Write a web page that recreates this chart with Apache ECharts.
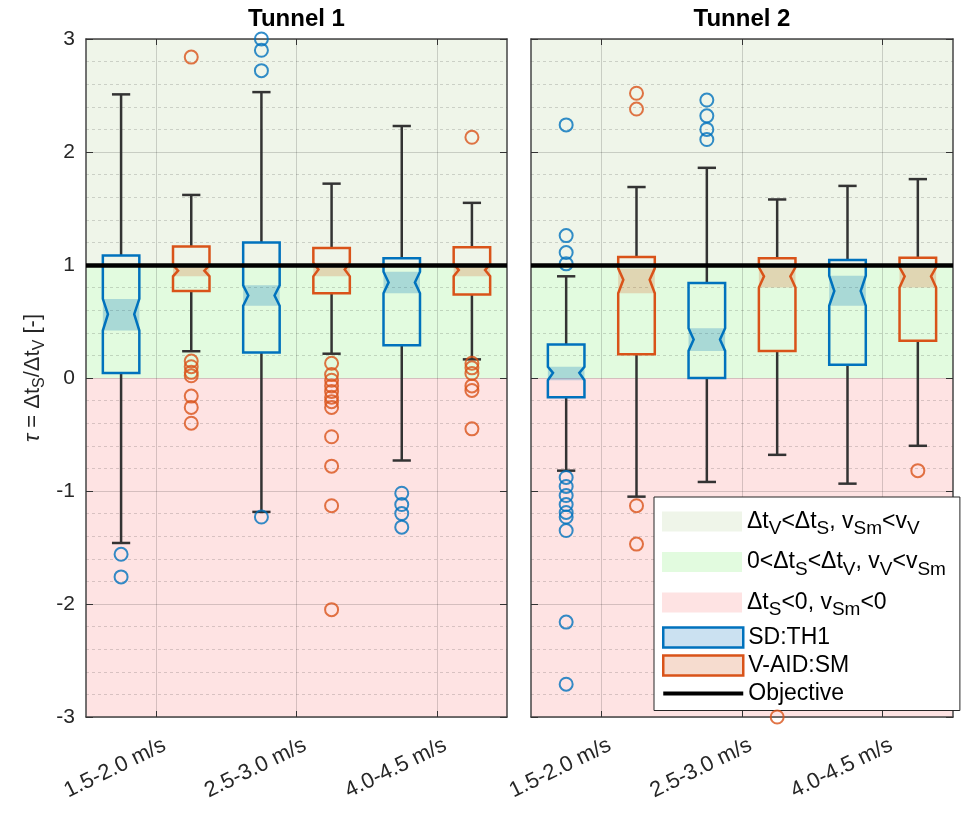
<!DOCTYPE html>
<html>
<head>
<meta charset="UTF-8">
<title>tau per tunnel</title>
<script src="https://cdn.jsdelivr.net/npm/echarts@6/dist/echarts.min.js"></script>
<style>
  body{margin:0;padding:0;background:#fff;}
  #chart{width:966px;height:814px;}
</style>
</head>
<body>
<div id="chart"></div>
<script>
var categories = ['1.5-2.0 m/s', '2.5-3.0 m/s', '4.0-4.5 m/s'];
var tunnels = ['Tunnel 1', 'Tunnel 2'];

// box stats per category: [lower whisker, Q1, notch low, median, notch high, Q3, upper whisker]
var t1SD = [
  [-1.46, 0.044, 0.42, 0.565, 0.70, 1.083, 2.51],
  [-1.185, 0.225, 0.64, 0.73, 0.82, 1.20, 2.53],
  [-0.73, 0.29, 0.75, 0.846, 0.94, 1.06, 2.23]
];
var t1VA = [
  [0.237, 0.77, 0.90, 0.95, 1.00, 1.163, 1.62],
  [0.215, 0.75, 0.90, 0.96, 1.02, 1.15, 1.72],
  [0.165, 0.74, 0.90, 0.955, 1.01, 1.157, 1.55]
];
var t2SD = [
  [-0.82, -0.17, -0.02, 0.045, 0.10, 0.296, 0.90],
  [-0.92, 0.0, 0.24, 0.34, 0.44, 0.84, 1.86],
  [-0.935, 0.118, 0.64, 0.77, 0.905, 1.044, 1.70]
];
var t2VA = [
  [-1.05, 0.21, 0.75, 0.87, 0.97, 1.07, 1.69],
  [-0.68, 0.24, 0.80, 0.90, 0.98, 1.06, 1.58],
  [-0.60, 0.33, 0.80, 0.90, 0.98, 1.065, 1.76]
];

// outliers per category
var t1SDOut = [[-1.56, -1.76], [3.0, 2.90, 2.72, -1.23], [-1.02, -1.12, -1.20, -1.32]];
var t1VAOut = [
  [2.84, 0.15, 0.10, 0.05, 0.02, -0.16, -0.26, -0.40],
  [0.13, 0.03, -0.02, -0.07, -0.12, -0.17, -0.21, -0.26, -0.52, -0.78, -1.13, -2.05],
  [2.13, 0.13, 0.09, 0.04, -0.07, -0.11, -0.45]
];
var t2SDOut = [
  [2.24, 1.26, 1.11, 1.01, -0.88, -0.96, -1.04, -1.12, -1.19, -1.23, -1.35, -2.16, -2.71],
  [2.46, 2.32, 2.20, 2.11],
  []
];
var t2VAOut = [[2.52, 2.38, -1.13, -1.47], [-3.0], [-0.82]];

var objective = 1;
var bandNames = ['b1', 'b2', 'b3'];
var bandLimits = [[1, 3], [0, 1], [-3, 0]];

var blue = '#0072BD', orange = '#D95319';
var bandColors = ['#eff5e9', '#e2fbdf', '#fee3e3'];
var font = 'Liberation Sans';

function boxSeries(name, stats, gi, side, color, shade) {
  return {
    name: name, type: 'custom', xAxisIndex: gi * 2, yAxisIndex: gi * 2, z: 3, silent: true,
    itemStyle: { color: color },
    data: stats.map(function (s, i) { return [i + 1 + side * 0.25].concat(s); }),
    renderItem: function (params, api) {
      var x = api.value(0);
      var cx = api.coord([x, 0])[0];
      var half = api.size([0.13, 0])[0];
      var nar = half * 0.72;
      var cap = api.size([0.065, 0])[0];
      function py(k) { return api.coord([x, api.value(k)])[1]; }
      var lw = py(1), q1 = py(2), nlo = py(3), med = py(4), nhi = py(5), q3 = py(6), hw = py(7);
      var wStyle = { stroke: '#333', lineWidth: 2.5 };
      return {
        type: 'group',
        children: [
          { type: 'line', shape: { x1: cx, y1: hw, x2: cx, y2: q3 }, style: wStyle },
          { type: 'line', shape: { x1: cx, y1: q1, x2: cx, y2: lw }, style: wStyle },
          { type: 'line', shape: { x1: cx - cap, y1: hw, x2: cx + cap, y2: hw }, style: wStyle },
          { type: 'line', shape: { x1: cx - cap, y1: lw, x2: cx + cap, y2: lw }, style: wStyle },
          { type: 'rect', shape: { x: cx - half, y: nhi, width: half * 2, height: nlo - nhi }, style: { fill: shade } },
          {
            type: 'polygon',
            shape: { points: [
              [cx - half, q1], [cx - half, nlo], [cx - nar, med], [cx - half, nhi], [cx - half, q3],
              [cx + half, q3], [cx + half, nhi], [cx + nar, med], [cx + half, nlo], [cx + half, q1]
            ] },
            style: { fill: 'none', stroke: color, lineWidth: 2.5 }
          }
        ]
      };
    }
  };
}

function outlierSeries(name, lists, gi, side, color) {
  var pts = [];
  lists.forEach(function (vals, i) {
    vals.forEach(function (v) { pts.push([i + 1 + side * 0.25, v]); });
  });
  return {
    name: name, type: 'scatter', xAxisIndex: gi * 2, yAxisIndex: gi * 2, z: 4, silent: true,
    symbol: 'circle', symbolSize: 13, clip: false,
    itemStyle: { color: 'rgba(0,0,0,0)', borderColor: color, borderWidth: 2 },
    data: pts
  };
}

function bandSeries(k, gi) {
  return {
    name: bandNames[k], type: 'custom', xAxisIndex: gi * 2, yAxisIndex: gi * 2, z: -1, silent: true,
    itemStyle: { color: bandColors[k] },
    data: [[1, bandLimits[k][0], bandLimits[k][1]]],
    renderItem: function (params, api) {
      var cs = params.coordSys;
      var top = api.coord([1, api.value(2)])[1];
      var bot = api.coord([1, api.value(1)])[1];
      return { type: 'rect', shape: { x: cs.x, y: top, width: cs.width, height: bot - top }, style: { fill: bandColors[k] } };
    }
  };
}

function objectiveSeries(gi) {
  return {
    name: 'Objective', type: 'line', xAxisIndex: gi * 2, yAxisIndex: gi * 2, data: [],
    symbol: 'none', lineStyle: { color: '#000', width: 4 }, itemStyle: { color: '#000' },
    markLine: {
      silent: true, symbol: 'none', label: { show: false },
      lineStyle: { color: '#000', width: 4.5, type: 'solid' },
      data: [{ yAxis: objective }]
    }
  };
}

var gridLine = { show: true, lineStyle: { color: 'rgba(0,0,0,0.16)', width: 1 } };
var frame = { show: true, onZero: false, lineStyle: { color: '#444', width: 1.5 } };

function xAxes(gi) {
  return [{
    type: 'value', gridIndex: gi, min: 0.5, max: 3.5, position: 'bottom',
    axisLine: frame,
    axisTick: { inside: true, length: 6, customValues: [1, 2, 3], lineStyle: { color: '#333' } },
    axisLabel: {
      // labels end a little right of their tick, as in the source figure
      customValues: [1.06, 2.06, 3.06], rotate: 26, margin: 27, fontSize: 22, color: '#262626', fontFamily: font,
      formatter: function (v) { return categories[Math.round(v) - 1]; }
    },
    splitLine: gridLine
  }, {
    type: 'value', gridIndex: gi, min: 0.5, max: 3.5, position: 'top',
    axisLine: frame,
    axisTick: { inside: true, length: 6, customValues: [1, 2, 3], lineStyle: { color: '#333' } },
    axisLabel: { show: false }, splitLine: { show: false },
    name: tunnels[gi], nameLocation: 'middle', nameGap: 8,
    nameTextStyle: { fontSize: 24, fontWeight: 'bold', color: '#000', fontFamily: font }
  }];
}

function yAxes(gi) {
  var left = {
    type: 'value', gridIndex: gi, min: -3, max: 3, interval: 1, position: 'left',
    axisLine: frame,
    axisTick: { inside: true, length: 7, lineStyle: { color: '#333' } },
    axisLabel: { show: gi === 0, fontSize: 21, color: '#262626', margin: 11, fontFamily: font },
    splitLine: gridLine,
    minorTick: { show: false, splitNumber: 5 },
    minorSplitLine: { show: true, lineStyle: { color: 'rgba(0,0,0,0.15)', type: [3, 3], width: 1 } }
  };
  if (gi === 0) {
    left.name = '{it|τ}{n| = Δt}{s|S}{n|/Δt}{s|V}{n| [-]}';
    left.nameLocation = 'middle';
    left.nameGap = 38;
    left.nameTextStyle = {
      color: '#262626', fontFamily: font,
      rich: {
        it: { fontSize: 22, fontStyle: 'italic', lineHeight: 30, fontFamily: font, color: '#262626' },
        n: { fontSize: 22, lineHeight: 30, fontFamily: font, color: '#262626' },
        s: { fontSize: 16, verticalAlign: 'bottom', fontFamily: font, color: '#262626' }
      }
    };
  }
  var right = {
    type: 'value', gridIndex: gi, min: -3, max: 3, interval: 1, position: 'right',
    axisLine: frame,
    axisTick: { inside: true, length: 7, lineStyle: { color: '#333' } },
    axisLabel: { show: false }, splitLine: { show: false }
  };
  return [left, right];
}

var legendLabels = {
  b1: '{n|Δt}{s|V}{n|<Δt}{s|S}{n|, v}{s|Sm}{n|<v}{s|V}',
  b2: '{n|0<Δt}{s|S}{n|<Δt}{s|V}{n|, v}{s|V}{n|<v}{s|Sm}',
  b3: '{n|Δt}{s|S}{n|<0, v}{s|Sm}{n|<0}',
  'SD:TH1': '{p|SD:TH1}',
  'V-AID:SM': '{p|V-AID:SM}',
  'Objective': '{p|Objective}'
};

var legendText = {
  color: '#000', fontFamily: font,
  rich: {
    n: { fontSize: 23, lineHeight: 34, color: '#000', fontFamily: font },
    s: { fontSize: 19, verticalAlign: 'bottom', color: '#000', fontFamily: font },
    p: { fontSize: 23, lineHeight: 20, color: '#000', fontFamily: font }
  }
};

var series = [];
[0, 1].forEach(function (gi) {
  [0, 1, 2].forEach(function (k) { series.push(bandSeries(k, gi)); });
});
series.push(boxSeries('SD:TH1', t1SD, 0, -1, blue, 'rgba(0,114,189,0.25)'));
series.push(boxSeries('V-AID:SM', t1VA, 0, 1, orange, 'rgba(217,83,25,0.22)'));
series.push(boxSeries('SD:TH1', t2SD, 1, -1, blue, 'rgba(0,114,189,0.25)'));
series.push(boxSeries('V-AID:SM', t2VA, 1, 1, orange, 'rgba(217,83,25,0.22)'));
series.push(outlierSeries('SD:TH1', t1SDOut, 0, -1, blue));
series.push(outlierSeries('V-AID:SM', t1VAOut, 0, 1, orange));
series.push(outlierSeries('SD:TH1', t2SDOut, 1, -1, blue));
series.push(outlierSeries('V-AID:SM', t2VAOut, 1, 1, orange));
series.push(objectiveSeries(0));
series.push(objectiveSeries(1));

var chart = echarts.init(document.getElementById('chart'));
chart.setOption({
  animation: false,
  backgroundColor: '#fff',
  textStyle: { fontFamily: font },
  grid: [
    { left: 86, top: 39, width: 421, height: 678 },
    { left: 531, top: 39, width: 422, height: 678 }
  ],
  xAxis: xAxes(0).concat(xAxes(1)),
  yAxis: yAxes(0).concat(yAxes(1)),
  legend: [{
    // shaded regions; this one also draws the frame round the whole key
    orient: 'vertical', left: 654, top: 497, padding: [13, 14, 91, 8],
    itemWidth: 80, itemHeight: 20, itemGap: 12, selectedMode: false,
    backgroundColor: '#fff', borderColor: '#262626', borderWidth: 1, borderRadius: 0,
    data: [
      { name: 'b1', icon: 'rect', itemStyle: { color: bandColors[0], borderWidth: 0 } },
      { name: 'b2', icon: 'rect', itemStyle: { color: bandColors[1], borderWidth: 0 } },
      { name: 'b3', icon: 'rect', itemStyle: { color: bandColors[2], borderWidth: 0 } }
    ],
    formatter: function (name) { return legendLabels[name]; },
    textStyle: legendText
  }, {
    orient: 'vertical', left: 654, top: 626, padding: [0, 0, 0, 8], z: 5,
    itemWidth: 80, itemHeight: 20, itemGap: 5, selectedMode: false,
    data: [
      { name: 'SD:TH1', icon: 'rect', itemStyle: { color: '#cbe1f1', borderColor: blue, borderWidth: 2.5 } },
      { name: 'V-AID:SM', icon: 'rect', itemStyle: { color: '#f6dccf', borderColor: orange, borderWidth: 2.5 } },
      { name: 'Objective', icon: 'path://M0,0L0.1,0M0,8H80V12H0ZM79.9,20L80,20', itemStyle: { color: '#000', borderWidth: 0 } }
    ],
    formatter: function (name) { return legendLabels[name]; },
    textStyle: legendText
  }],
  series: series
});
</script>
</body>
</html>
